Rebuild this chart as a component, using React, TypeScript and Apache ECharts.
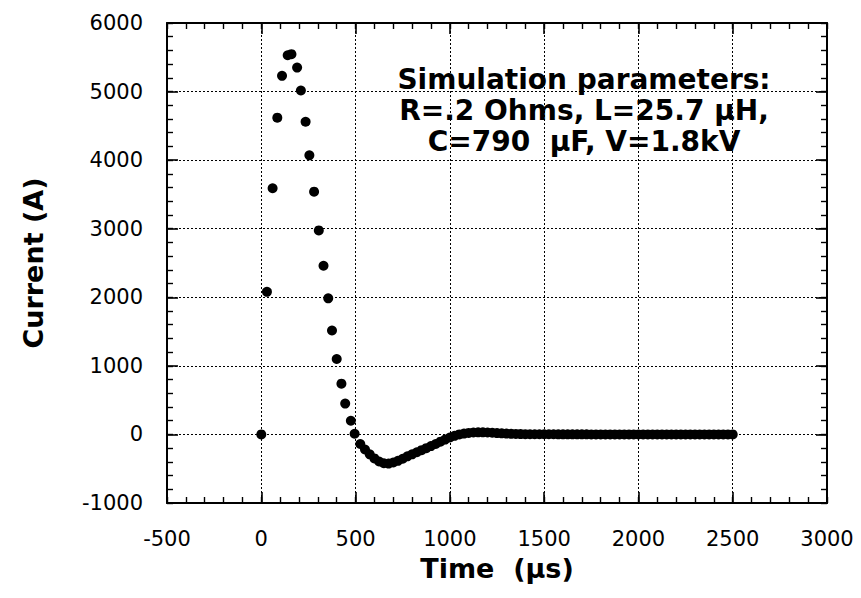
import React, { useEffect, useRef } from "react";
import * as echarts from "echarts";

// Time (μs) of each simulated sample
const times: number[] = [
  0, 30, 60, 85, 110, 140, 160, 190, 210, 235, 255, 280, 305, 330, 355, 375, 400, 425, 445, 475, 495, 525,
  550, 575, 600, 625, 650, 675, 700, 725, 750, 775, 800, 825, 850, 875, 900, 925, 950, 975,
  1000, 1025, 1050, 1075, 1100, 1125, 1150, 1175, 1200, 1225, 1250, 1275, 1300, 1325, 1350, 1375,
  1400, 1425, 1450, 1475, 1500, 1525, 1550, 1575, 1600, 1625, 1650, 1675, 1700, 1725, 1750, 1775,
  1800, 1825, 1850, 1875, 1900, 1925, 1950, 1975, 2000, 2025, 2050, 2075, 2100, 2125, 2150, 2175,
  2200, 2225, 2250, 2275, 2300, 2325, 2350, 2375, 2400, 2425, 2450, 2475, 2500,
];

// Current (A) of each sample
const currents: number[] = [
  0, 2080, 3590, 4620, 5230, 5530, 5545, 5350, 5015, 4560, 4070, 3540, 2975, 2460, 1985, 1515, 1100, 740, 450, 200, 10, -140,
  -220, -290, -350, -395, -420, -425, -410, -385, -355, -320, -290, -260, -230, -200, -170, -140, -105, -75,
  -45, -20, 0, 12, 22, 28, 30, 30, 28, 25, 20, 16, 12, 9, 7, 5,
  4, 3, 3, 2, 2, 2, 2, 1, 1, 1, 1, 1, 1, 1, 0, 0,
  0, 0, 0, 0, 0, 0, 0, 0, 0, 0, 0, 0, 0, 0, 0, 0,
  0, 0, 0, 0, 0, 0, 0, 0, 0, 0, 0, 0, 0,
];

const xTicks = { min: -500, max: 3000, interval: 500 };
const yTicks = { min: -1000, max: 6000, interval: 1000 };
const xMinorStep = 100;
const yMinorStep = 200;

const xName = "Time  (μs)";
const yName = "Current (A)";
const noteLines: string[] = [
  "Simulation parameters:",
  "R=.2 Ohms, L=25.7 μH,",
  "C=790  μF, V=1.8kV",
];

const FONT = '"DejaVu Sans", "Liberation Sans", Arial, sans-serif';

export default function App() {
  const ref = useRef<HTMLDivElement>(null);
  useEffect(() => {
    document.body.style.margin = "0";
    if (!ref.current) return;
    const chart = echarts.init(ref.current, undefined, { renderer: "svg" });
    const axisLine = { show: true, onZero: false, lineStyle: { color: "#000", width: 2 } };
    const axisTick = { show: true, inside: true, length: 11, lineStyle: { color: "#000", width: 1.6 } };
    const minorAxisTick = { show: true, inside: true, length: 6, lineStyle: { color: "#000", width: 1.4 } };
    const splitLine = { show: true, lineStyle: { color: "#000", width: 1, type: [2, 2] as any } };
    const tickLabel = {
      color: "#000",
      fontFamily: FONT,
      fontSize: 21,
      formatter: (v: number) => String(v),
    };
    const data = times.map((t, i) => [t, currents[i]]);
    const frameAxis = (pos: string, ticks: any) => ({
      type: "value",
      ...ticks,
      position: pos,
      axisLine,
      axisTick,
      splitLine: { show: false },
      axisLabel: { show: false },
    });
    const minorAxis = (pos: string, min: number, max: number, interval: number) => ({
      type: "value",
      min,
      max,
      interval,
      position: pos,
      axisLine: { show: false, onZero: false },
      axisTick: minorAxisTick,
      splitLine: { show: false },
      axisLabel: { show: false },
    });
    chart.setOption({
      animation: false,
      backgroundColor: "#fff",
      grid: { left: 167, right: 34, top: 23, bottom: 95 },
      xAxis: [
        {
          type: "value",
          ...xTicks,
          position: "bottom",
          axisLine,
          axisTick,
          splitLine,
          axisLabel: { ...tickLabel, margin: 25 },
          name: xName,
          nameLocation: "middle",
          nameGap: 52,
          nameTextStyle: { color: "#000", fontFamily: FONT, fontSize: 27, fontWeight: "bold" },
        },
        frameAxis("top", xTicks),
        minorAxis("bottom", xTicks.min, xTicks.max, xMinorStep),
        minorAxis("top", xTicks.min, xTicks.max, xMinorStep),
      ],
      yAxis: [
        {
          type: "value",
          ...yTicks,
          position: "left",
          axisLine,
          axisTick,
          splitLine,
          axisLabel: { ...tickLabel, margin: 24 },
          name: yName,
          nameLocation: "middle",
          nameRotate: 90,
          nameGap: 120,
          nameTextStyle: { color: "#000", fontFamily: FONT, fontSize: 27, fontWeight: "bold" },
        },
        frameAxis("right", yTicks),
        minorAxis("left", yTicks.min, yTicks.max, yMinorStep),
        minorAxis("right", yTicks.min, yTicks.max, yMinorStep),
      ],
      series: [
        {
          type: "scatter",
          xAxisIndex: 0,
          yAxisIndex: 0,
          data,
          symbol: "circle",
          symbolSize: 10,
          itemStyle: { color: "#000", opacity: 1 },
          z: 5,
        },
      ],
      graphic: [
        {
          type: "text",
          x: 584,
          y: 64,
          z: 10,
          style: {
            text: noteLines.join("\n"),
            fill: "#000",
            font: `bold 28px ${FONT}`,
            align: "center",
            verticalAlign: "top",
            lineHeight: 31,
          },
        },
      ],
    });
    return () => chart.dispose();
  }, []);
  return <div ref={ref} style={{ width: 861, height: 598 }} />;
}
